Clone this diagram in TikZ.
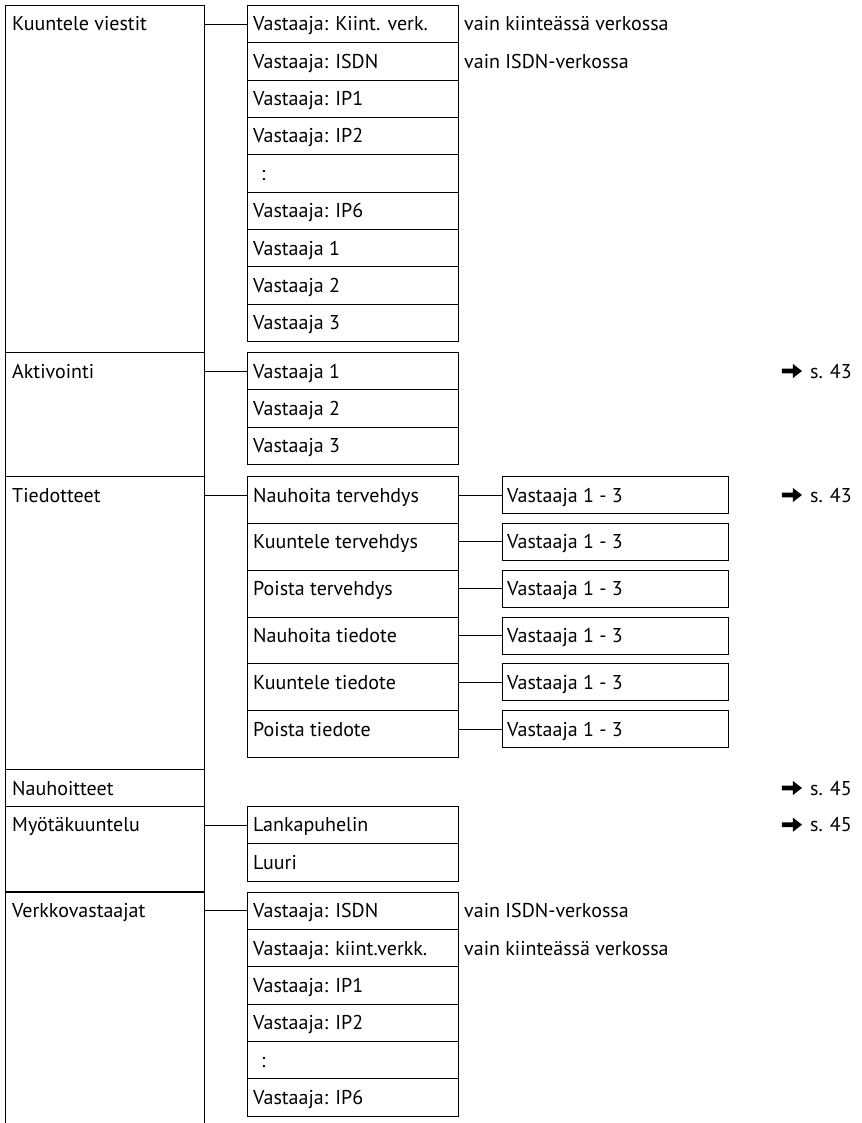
\documentclass[tikz,border=0pt]{standalone}
\usepackage{fontspec}
\setmainfont{PT Sans}
\begin{document}
\begin{tikzpicture}[x=1pt,y=-1pt,
  box/.style={draw, line width=1pt, inner sep=0pt, anchor=north west},
  txt/.style={anchor=base west, inner sep=0pt, font=\fontsize{20}{24}\selectfont},
  conn/.style={draw, line width=1pt},
  ref/.style={anchor=base east, inner sep=0pt, font=\fontsize{20}{24}\selectfont}]
\useasboundingbox (0,0) rectangle (861,1123);
% name, x, y, w, h, text, text xshift
\newcommand\rowbox[7]{%
  \node[box, minimum width=#4pt, minimum height=#5pt] (#1) at (#2,#3) {};
  \node[txt] (#1-t) at ([xshift=#7pt,yshift=-26pt]#1.north west) {#6};}
% bold arrow in front of a page reference node
\newcommand\refarrow[1]{%
  \coordinate (#1-tip) at ([xshift=-8pt,yshift=7pt]#1.base west);
  \fill ([xshift=-20pt,yshift=-2.3pt]#1-tip) -- ([xshift=-9pt,yshift=-2.3pt]#1-tip)
        -- ([xshift=-9pt,yshift=-7pt]#1-tip) -- (#1-tip)
        -- ([xshift=-9pt,yshift=7pt]#1-tip) -- ([xshift=-9pt,yshift=2.3pt]#1-tip)
        -- ([xshift=-20pt,yshift=2.3pt]#1-tip) -- cycle;}

% ---- left column
\rowbox{kv}{5}{5}{199}{347}{Kuuntele viestit}{7}
\rowbox{ak}{5}{352}{199}{124}{Aktivointi}{7}
\rowbox{ti}{5}{476}{199}{293}{Tiedotteet}{7}
\rowbox{nh}{5}{769}{199}{36.7}{Nauhoitteet}{7}
\rowbox{my}{5}{805.7}{199}{86}{Myötäkuuntelu}{7}
\node[inner sep=0pt, anchor=north west, minimum width=199pt, minimum height=231.3pt] (vk) at (5,891.7) {};
\draw[line width=1pt] (vk.south west) -- (vk.north west) -- (vk.north east) -- (vk.south east);
\node[txt] (vk-t) at ([xshift=7pt,yshift=-26pt]vk.north west) {Verkkovastaajat};

% ---- Kuuntele viestit
\rowbox{k1}{247}{5}{211}{37.33}{Vastaaja: Kiint. verk.}{6}
\rowbox{k2}{247}{42.33}{211}{37.33}{Vastaaja: ISDN}{6}
\rowbox{k3}{247}{79.67}{211}{37.33}{Vastaaja: IP1}{6}
\rowbox{k4}{247}{117}{211}{37.33}{Vastaaja: IP2}{6}
\rowbox{k5}{247}{154.33}{211}{37.33}{:}{14}
\rowbox{k6}{247}{191.67}{211}{37.33}{Vastaaja: IP6}{6}
\rowbox{k7}{247}{229}{211}{37.33}{Vastaaja 1}{6}
\rowbox{k8}{247}{266.33}{211}{37.33}{Vastaaja 2}{6}
\rowbox{k9}{247}{303.67}{211}{37.33}{Vastaaja 3}{6}
\draw[conn] (kv.east |- k1.west) -- (k1.west);
\node[txt] (n1) at ([xshift=5pt]k1-t.base -| k1.east) {vain kiinteässä verkossa};
\node[txt] (n2) at ([xshift=5pt]k2-t.base -| k2.east) {vain ISDN-verkossa};

% ---- Aktivointi
\rowbox{a1}{247}{352}{211}{37.33}{Vastaaja 1}{6}
\rowbox{a2}{247}{389.33}{211}{37.33}{Vastaaja 2}{6}
\rowbox{a3}{247}{426.67}{211}{37.33}{Vastaaja 3}{6}
\draw[conn] (ak.east |- a1.west) -- (a1.west);
\node[ref] (p1) at (852,0 |- a1-t.base) {s. 43};
\refarrow{p1}

% ---- Tiedotteet
\rowbox{t1}{247}{476}{211}{46.83}{Nauhoita tervehdys}{6}
\rowbox{t2}{247}{522.83}{211}{46.83}{Kuuntele tervehdys}{6}
\rowbox{t3}{247}{569.67}{211}{46.83}{Poista tervehdys}{6}
\rowbox{t4}{247}{616.5}{211}{46.83}{Nauhoita tiedote}{6}
\rowbox{t5}{247}{663.33}{211}{46.83}{Kuuntele tiedote}{6}
\rowbox{t6}{247}{710.17}{211}{46.83}{Poista tiedote}{6}
\rowbox{r1}{502}{476}{226}{37}{Vastaaja 1 - 3}{5}
\rowbox{r2}{502}{522.83}{226}{37}{Vastaaja 1 - 3}{5}
\rowbox{r3}{502}{569.67}{226}{37}{Vastaaja 1 - 3}{5}
\rowbox{r4}{502}{616.5}{226}{37}{Vastaaja 1 - 3}{5}
\rowbox{r5}{502}{663.33}{226}{37}{Vastaaja 1 - 3}{5}
\rowbox{r6}{502}{710.17}{226}{37}{Vastaaja 1 - 3}{5}
\draw[conn] (ti.east |- r1.west) -- (t1.west |- r1.west);
\foreach \i in {1,...,6} {\draw[conn] (t\i.east |- r\i.west) -- (r\i.west);}
\node[ref] (p2) at (852,0 |- r1-t.base) {s. 43};
\refarrow{p2}

% ---- Nauhoitteet
\node[ref] (p3) at (852,0 |- nh-t.base) {s. 45};
\refarrow{p3}

% ---- Myötäkuuntelu
\rowbox{m1}{247}{805.7}{211}{37.6}{Lankapuhelin}{6}
\rowbox{m2}{247}{843.3}{211}{37.6}{Luuri}{6}
\draw[conn] (my.east |- m1.west) -- (m1.west);
\node[ref] (p4) at (852,0 |- m1-t.base) {s. 45};
\refarrow{p4}

% ---- Verkkovastaajat
\rowbox{v1}{247}{891.7}{211}{37.33}{Vastaaja: ISDN}{6}
\rowbox{v2}{247}{929}{211}{37.33}{Vastaaja: kiint.verkk.}{6}
\rowbox{v3}{247}{966.33}{211}{37.33}{Vastaaja: IP1}{6}
\rowbox{v4}{247}{1003.67}{211}{37.33}{Vastaaja: IP2}{6}
\rowbox{v5}{247}{1041}{211}{37.33}{:}{14}
\rowbox{v6}{247}{1078.33}{211}{37.33}{Vastaaja: IP6}{6}
\draw[conn] (vk.east |- v1.west) -- (v1.west);
\node[txt] (n3) at ([xshift=5pt]v1-t.base -| v1.east) {vain ISDN-verkossa};
\node[txt] (n4) at ([xshift=5pt]v2-t.base -| v2.east) {vain kiinteässä verkossa};
\end{tikzpicture}
\end{document}
